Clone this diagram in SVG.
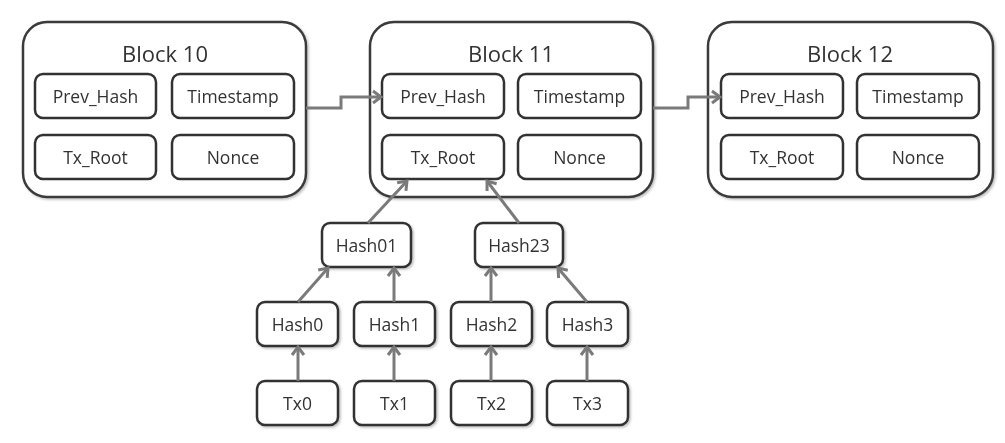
<svg xmlns="http://www.w3.org/2000/svg" width="1005" height="443" viewBox="0 0 1005 443">
<style>
.outer{fill:#fff;stroke:#3a3a3a;stroke-width:2.5}
.box{fill:#fff;stroke:#333;stroke-width:2.5}
.t{font-family:"Open Sans","Liberation Sans",sans-serif;font-size:17.5px;fill:#333;text-anchor:middle}
.title{font-family:"Open Sans","Liberation Sans",sans-serif;font-size:22px;fill:#333;text-anchor:middle}
.c{fill:none;stroke:#7a7a7a;stroke-width:3}
</style>
<defs>
<filter id="sh" x="-10%" y="-10%" width="130%" height="130%">
<feDropShadow dx="1.5" dy="1.5" stdDeviation="1" flood-color="#000" flood-opacity="0.25"/>
</filter>
<marker id="ah" markerUnits="userSpaceOnUse" markerWidth="16" markerHeight="16" refX="12" refY="8" orient="auto">
<path d="M4,2 L12,8 L4,14" fill="none" stroke="#7a7a7a" stroke-width="3"/>
</marker>
</defs>
<g id="block10" filter="url(#sh)">
<rect class="outer" x="23" y="22" width="283" height="175" rx="24"/>
<text class="title" x="165" y="62">Block 10</text>
<rect class="box" x="35" y="74" width="121" height="44" rx="8"/>
<text class="t" x="95.5" y="103">Prev_Hash</text>
<rect class="box" x="172" y="74" width="122" height="44" rx="8"/>
<text class="t" x="233" y="103">Timestamp</text>
<rect class="box" x="35" y="135" width="121" height="44" rx="8"/>
<text class="t" x="95.5" y="164">Tx_Root</text>
<rect class="box" x="172" y="135" width="122" height="44" rx="8"/>
<text class="t" x="233" y="164">Nonce</text>
</g>
<g id="block11" filter="url(#sh)">
<rect class="outer" x="370" y="22" width="283" height="175" rx="24"/>
<text class="title" x="511" y="62">Block 11</text>
<rect class="box" x="382" y="74" width="122" height="44" rx="8"/>
<text class="t" x="443" y="103">Prev_Hash</text>
<rect class="box" x="518" y="74" width="123" height="44" rx="8"/>
<text class="t" x="579.5" y="103">Timestamp</text>
<rect class="box" x="382" y="135" width="122" height="44" rx="8"/>
<text class="t" x="443" y="164">Tx_Root</text>
<rect class="box" x="518" y="135" width="123" height="44" rx="8"/>
<text class="t" x="579.5" y="164">Nonce</text>
</g>
<g id="block12" filter="url(#sh)">
<rect class="outer" x="708" y="22" width="285" height="175" rx="24"/>
<text class="title" x="850" y="62">Block 12</text>
<rect class="box" x="721" y="74" width="122" height="44" rx="8"/>
<text class="t" x="782" y="103">Prev_Hash</text>
<rect class="box" x="857" y="74" width="122" height="44" rx="8"/>
<text class="t" x="918" y="103">Timestamp</text>
<rect class="box" x="721" y="135" width="122" height="44" rx="8"/>
<text class="t" x="782" y="164">Tx_Root</text>
<rect class="box" x="857" y="135" width="122" height="44" rx="8"/>
<text class="t" x="918" y="164">Nonce</text>
</g>
<g id="hash01" filter="url(#sh)"><rect class="box" x="322" y="223" width="89" height="44" rx="8"/><text class="t" x="366.5" y="252">Hash01</text></g>
<g id="hash23" filter="url(#sh)"><rect class="box" x="475" y="223" width="88" height="44" rx="8"/><text class="t" x="519" y="252">Hash23</text></g>
<g id="hash0" filter="url(#sh)"><rect class="box" x="257" y="302" width="81" height="44" rx="8"/><text class="t" x="297.5" y="331">Hash0</text></g>
<g id="hash1" filter="url(#sh)"><rect class="box" x="354" y="302" width="81" height="44" rx="8"/><text class="t" x="394.5" y="331">Hash1</text></g>
<g id="hash2" filter="url(#sh)"><rect class="box" x="451" y="302" width="81" height="44" rx="8"/><text class="t" x="491.5" y="331">Hash2</text></g>
<g id="hash3" filter="url(#sh)"><rect class="box" x="547" y="302" width="81" height="44" rx="8"/><text class="t" x="587.5" y="331">Hash3</text></g>
<g id="tx0" filter="url(#sh)"><rect class="box" x="257" y="381" width="81" height="44" rx="8"/><text class="t" x="297.5" y="410">Tx0</text></g>
<g id="tx1" filter="url(#sh)"><rect class="box" x="354" y="381" width="81" height="44" rx="8"/><text class="t" x="394.5" y="410">Tx1</text></g>
<g id="tx2" filter="url(#sh)"><rect class="box" x="451" y="381" width="81" height="44" rx="8"/><text class="t" x="491.5" y="410">Tx2</text></g>
<g id="tx3" filter="url(#sh)"><rect class="box" x="547" y="381" width="81" height="44" rx="8"/><text class="t" x="587.5" y="410">Tx3</text></g>
<g id="connectors">
<path class="c" d="M306,108 H341 V97 H381" marker-end="url(#ah)"/>
<path class="c" d="M653,108 H688 V97 H720" marker-end="url(#ah)"/>
<path class="c" d="M368,223 L407,181" marker-end="url(#ah)"/>
<path class="c" d="M519,223 L487,181" marker-end="url(#ah)"/>
<path class="c" d="M298,302 L328,268" marker-end="url(#ah)"/>
<path class="c" d="M394,302 V268" marker-end="url(#ah)"/>
<path class="c" d="M491,302 V268" marker-end="url(#ah)"/>
<path class="c" d="M587,302 L558,268" marker-end="url(#ah)"/>
<path class="c" d="M298,381 V347" marker-end="url(#ah)"/>
<path class="c" d="M394,381 V347" marker-end="url(#ah)"/>
<path class="c" d="M491,381 V347" marker-end="url(#ah)"/>
<path class="c" d="M587,381 V347" marker-end="url(#ah)"/>
</g>
</svg>
